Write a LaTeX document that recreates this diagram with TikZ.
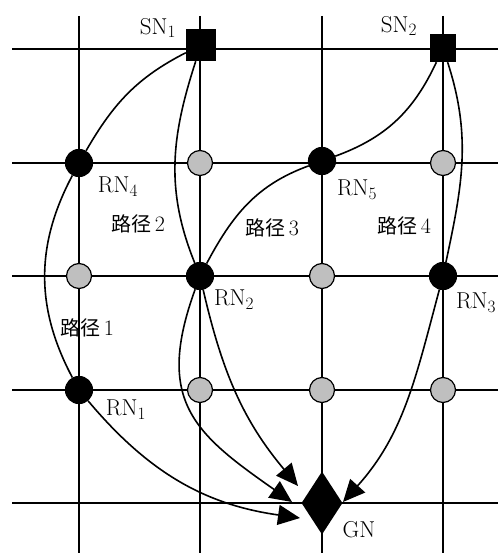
\documentclass[tikz,border=0pt]{standalone}
\usepackage{fontspec}
\newfontfamily\cjk{Noto Sans CJK SC}
\usetikzlibrary{shapes.geometric,arrows.meta}
\begin{document}
\begin{tikzpicture}[x=1pt,y=1pt,
  gridline/.style={line width=1.6pt},
  relay/.style={circle,fill=black,draw=black,line width=1.2pt,minimum size=27pt,inner sep=0pt},
  idle/.style={circle,fill=gray!50,draw=black,line width=1.2pt,minimum size=25pt,inner sep=0pt},
  src/.style={rectangle,fill=black,inner sep=0pt},
  lbl/.style={font=\fontsize{23}{27}\selectfont,inner sep=0pt},
  pathlbl/.style={font=\fontsize{22}{26}\selectfont,inner sep=0pt},
  route/.style={line width=1.6pt},
  tip/.style={-{Triangle[length=22pt,width=20pt]}}]
\useasboundingbox (0,0) rectangle (498,-553);

% grid
\foreach \y in {49,163,276,390,503} \draw[gridline] (12,-\y) -- (498,-\y);
\foreach \x in {79,200,322,443} \draw[gridline] (\x,-16) -- (\x,-553);

% sources
\node[src,minimum width=30pt,minimum height=32pt] (SN1) at (201,-45) {};
\node[src,minimum width=26pt,minimum height=28pt] (SN2) at (443,-48) {};

% relays in use
\node[relay] (RN4) at (79,-163) {};
\node[relay] (RN5) at (322,-161) {};
\node[relay] (RN2) at (200,-276) {};
\node[relay] (RN3) at (443,-276) {};
\node[relay] (RN1) at (79,-390) {};

% idle relays
\node[idle] (g1) at (200,-163) {};
\node[idle] (g2) at (443,-163) {};
\node[idle] (g3) at (79,-276) {};
\node[idle] (g4) at (322,-276) {};
\node[idle] (g5) at (200,-390) {};
\node[idle] (g6) at (322,-390) {};
\node[idle] (g7) at (443,-390) {};

% gateway
\node[diamond,fill=black,inner sep=0pt,minimum width=41pt,minimum height=63pt] (GN) at (322,-503) {};

% arrow tips near the gateway
\coordinate (tA) at (298,-486);
\coordinate (tB) at (292,-502);
\coordinate (tC) at (300,-518);
\coordinate (tD) at (343,-502);

% route 1
\draw[route] (SN1) to[out=207,in=60] (RN4);
\draw[route] (RN4) to[out=242,in=118] (RN1);
\draw[route,tip] (RN1) to[out=-50,in=172] (tC);
% route 2
\draw[route] (SN1) to[out=252,in=112] (RN2);
\draw[route,tip] (RN2) to[out=250,in=145,looseness=1.3] (tB);
% route 3
\draw[route] (SN2) to[out=245,in=20] (RN5);
\draw[route] (RN5) to[out=200,in=62] (RN2);
\draw[route,tip] (RN2) to[out=-77,in=130] (tA);
% route 4
\draw[route] (SN2) to[out=-72,in=78] (RN3);
\draw[route,tip] (RN3) to[out=255,in=48] (tD);

% labels
\node[lbl] (lSN1) at (158,-28) {SN$_1$};
\node[lbl] (lSN2) at (399,-26) {SN$_2$};
\node[lbl] (lRN4) at (118,-187) {RN$_4$};
\node[lbl] (lRN5) at (357,-190) {RN$_5$};
\node[lbl] (lRN2) at (234,-300) {RN$_2$};
\node[lbl] (lRN3) at (476,-303) {RN$_3$};
\node[lbl] (lRN1) at (126,-410) {RN$_1$};
\node[lbl] (lGN) at (359,-530) {GN};
\node[pathlbl] (p1) at (87,-328) {{\cjk\fontsize{20}{24}\selectfont 路径}\,1};
\node[pathlbl] (p2) at (138,-224) {{\cjk\fontsize{20}{24}\selectfont 路径}\,2};
\node[pathlbl] (p3) at (272,-228) {{\cjk\fontsize{20}{24}\selectfont 路径}\,3};
\node[pathlbl] (p4) at (404,-226) {{\cjk\fontsize{20}{24}\selectfont 路径}\,4};
\end{tikzpicture}
\end{document}
